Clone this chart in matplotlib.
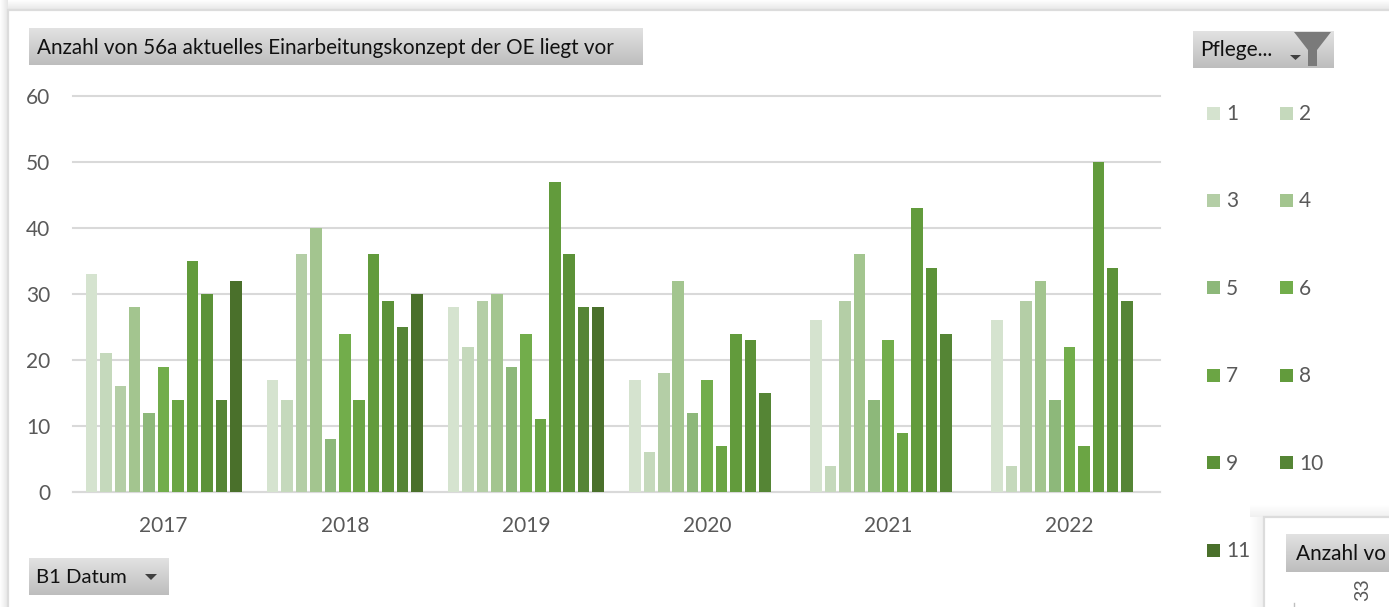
import numpy as np
import matplotlib
matplotlib.use("Agg")
import matplotlib.pyplot as plt
from matplotlib.patches import Rectangle, Polygon

plt.rcParams['font.family'] = ['Lato', 'DejaVu Sans']

years = ['2017', '2018', '2019', '2020', '2021', '2022']
series_names = ['1', '2', '3', '4', '5', '6', '7', '8', '9', '10', '11']

# one list per year, series 1 to 11 (no 11 after 2019)
y2017 = [33, 21, 16, 28, 12, 19, 14, 35, 30, 14, 32]
y2018 = [17, 14, 36, 40, 8, 24, 14, 36, 29, 25, 30]
y2019 = [28, 22, 29, 30, 19, 24, 11, 47, 36, 28, 28]
y2020 = [17, 6, 18, 32, 12, 17, 7, 24, 23, 15, np.nan]
y2021 = [26, 4, 29, 36, 14, 23, 9, 43, 34, 24, np.nan]
y2022 = [26, 4, 29, 32, 14, 22, 7, 50, 34, 29, np.nan]
y_ticks = [0, 10, 20, 30, 40, 50, 60]

colors = ['#D5E3CF', '#C5D9BC', '#B4CEA6', '#A3C58F', '#8DB87A', '#72AD4B',
          '#6BA544', '#629B3C', '#5C9238', '#558535', '#4A702B']

W, H = 1389, 607
fig = plt.figure(figsize=(W / 100, H / 100), dpi=100, facecolor='white')

# background layer in pixel coords, y going down
bg = fig.add_axes([0, 0, 1, 1], zorder=0)
bg.set_xlim(0, W)
bg.set_ylim(H, 0)
bg.axis('off')


def gradient(ax, x0, y0, x1, y1, c0, c1, vertical=True, z=1):
    a = np.array(matplotlib.colors.to_rgb(c0))
    b = np.array(matplotlib.colors.to_rgb(c1))
    t = np.linspace(0, 1, 64)
    img = np.outer(t, b - a) + a
    img = img[:, None, :] if vertical else img[None, :, :]
    ax.imshow(img, extent=[x0, x1, y1, y0], aspect='auto', zorder=z, interpolation='bilinear')
    ax.set_xlim(0, W)
    ax.set_ylim(H, 0)


def button(ax, x0, y0, x1, y1, label, size=15, z=3, pad=8):
    gradient(ax, x0, y0, x1, y1, '#E2E2E2', '#BDBDBD', z=z)
    ax.text(x0 + pad, (y0 + y1) / 2 + 1, label, fontsize=size, color='#111111',
            ha='left', va='center', zorder=z + 1)


# outer shadow and panel border
gradient(bg, 0, 0, W, 10, '#FFFFFF', '#E6E6E6')
gradient(bg, 0, 0, 8, H, '#FFFFFF', '#E6E6E6', vertical=False)
bg.add_patch(Rectangle((8, 10), W, H, fc='white', ec='#DCDCDC', lw=1.6, zorder=2))

button(bg, 29, 28, 643, 65, 'Anzahl von 56a aktuelles Einarbeitungskonzept der OE liegt vor', size=14.9)
button(bg, 29, 558, 169, 595, 'B1 Datum', size=14.6, pad=7)
bg.add_patch(Polygon([(145, 574), (157, 574), (151, 580)], fc='#404040', zorder=5))
button(bg, 1193, 31, 1334, 68, 'Pflege...', size=15, pad=7)
bg.add_patch(Polygon([(1290, 55), (1301, 55), (1295.5, 60)], fc='#404040', zorder=5))
bg.add_patch(Polygon([(1294, 32), (1331, 32), (1317, 50), (1317, 66), (1308, 66), (1308, 50)],
                     fc='#7A7A7A', zorder=5))

# legend, two columns
for i, name in enumerate(series_names):
    row = i // 2
    col = i % 2
    sx = 1207 + col * 73
    sy = 113 + row * 87.4
    bg.add_patch(Rectangle((sx, sy - 6.5), 13, 13, fc=colors[i], ec='none', zorder=3))
    bg.text(sx + 19, sy + 1, name, fontsize=15, color='#595959', ha='left', va='center', zorder=3)

# second chart peeking in at the lower right corner
gradient(bg, 1250, 505, 1264, H, '#FFFFFF', '#F0F0F0', vertical=False, z=6)
gradient(bg, 1250, 505, W, 517, '#FFFFFF', '#F0F0F0', z=6)
bg.add_patch(Rectangle((1264, 517), W, H, fc='white', ec='#DCDCDC', lw=1.6, zorder=7))
button(bg, 1286, 534, W, 572, 'Anzahl vo', size=15, z=8, pad=10)
bg.text(1363, 590, '33', fontsize=14, color='#595959', rotation=90, ha='center', va='center', zorder=8)
bg.plot([1294, 1294], [603, H], color='#BFBFBF', lw=1, zorder=8)
bg.set_xlim(0, W)
bg.set_ylim(H, 0)

# main chart
ax = fig.add_axes([73 / W, 1 - 492 / H, (1160 - 73) / W, (492 - 96) / H], zorder=1)
ax.patch.set_alpha(0)

table = np.array([y2017, y2018, y2019, y2020, y2021, y2022], dtype=float)
x = np.arange(len(years))
step = 0.0797
width = 0.0635
for i, name in enumerate(series_names):
    ax.bar(x + (i - 5) * step, table[:, i], width, color=colors[i], label=name, zorder=3)

ax.set_xlim(-0.5, 5.5)
ax.set_ylim(0, 60)
ax.set_xticks(x)
ax.set_xticklabels(years)
ax.set_yticks(y_ticks)
ax.tick_params(length=0, labelsize=15, labelcolor='#595959')
ax.tick_params(axis='x', pad=17.5)
ax.tick_params(axis='y', pad=16.5)

for s in ['top', 'right', 'left']:
    ax.spines[s].set_visible(False)
ax.spines['bottom'].set_color('#D9D9D9')
ax.spines['bottom'].set_linewidth(1.5)
ax.set_axisbelow(True)
ax.yaxis.grid(True, color='#D9D9D9', linewidth=1.5, clip_on=False)
ax.xaxis.grid(False)

fig.savefig('out.png', dpi=100)
